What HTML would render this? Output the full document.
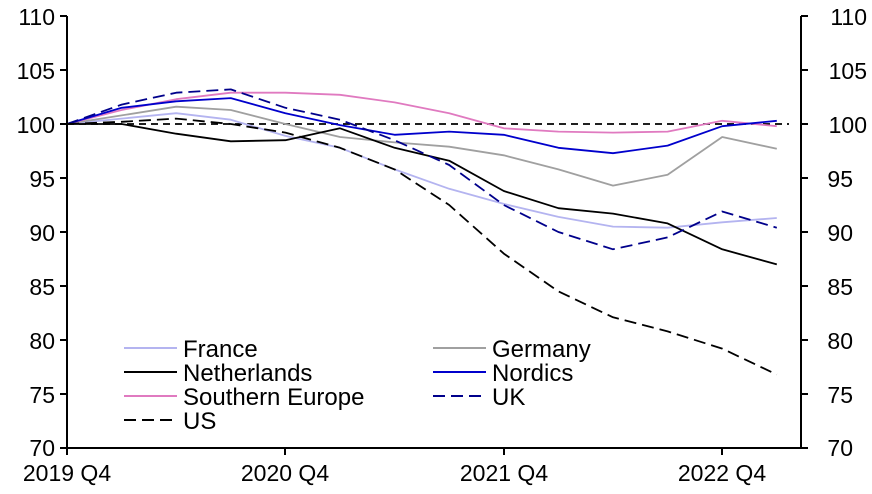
<!DOCTYPE html>
<html><head><meta charset="utf-8"><style>
html,body{margin:0;padding:0;background:#fff;}
svg{display:block;font-family:"Liberation Sans",Arial,sans-serif;}
</style></head><body>
<svg id="c" width="872" height="494" viewBox="0 0 872 494" xmlns="http://www.w3.org/2000/svg">
<g id="series" fill="none" stroke-width="1.8" stroke-linejoin="round"></g>
<g stroke="#000" stroke-width="2" fill="none">
<line x1="67" y1="16" x2="67" y2="448"/>
<line x1="801" y1="16" x2="801" y2="448"/>
<line x1="67" y1="448" x2="801" y2="448"/>
</g>
<g id="ticks" stroke="#000" stroke-width="2"></g>
<g font-size="23" fill="#000">
<text x="55" y="25" text-anchor="end">110</text>
<text x="55" y="79" text-anchor="end">105</text>
<text x="55" y="133" text-anchor="end">100</text>
<text x="55" y="187" text-anchor="end">95</text>
<text x="55" y="241" text-anchor="end">90</text>
<text x="55" y="295" text-anchor="end">85</text>
<text x="55" y="349" text-anchor="end">80</text>
<text x="55" y="403" text-anchor="end">75</text>
<text x="55" y="456" text-anchor="end">70</text>
<text x="867" y="25" text-anchor="end">110</text>
<text x="867" y="79" text-anchor="end">105</text>
<text x="867" y="133" text-anchor="end">100</text>
<text x="853" y="187" text-anchor="end">95</text>
<text x="853" y="241" text-anchor="end">90</text>
<text x="853" y="295" text-anchor="end">85</text>
<text x="853" y="349" text-anchor="end">80</text>
<text x="853" y="403" text-anchor="end">75</text>
<text x="853" y="456" text-anchor="end">70</text>
<text x="67" y="481" text-anchor="middle">2019 Q4</text>
<text x="285" y="481" text-anchor="middle">2020 Q4</text>
<text x="504" y="481" text-anchor="middle">2021 Q4</text>
<text x="722" y="481" text-anchor="middle">2022 Q4</text>
</g>
<g stroke-width="2" fill="none">
<line x1="124" y1="348" x2="177" y2="348" stroke="#b4b4f0"/>
<line x1="124" y1="372" x2="177" y2="372" stroke="#000"/>
<line x1="124" y1="396" x2="177" y2="396" stroke="#e07ac0"/>
<line x1="124" y1="420" x2="177" y2="420" stroke="#000" stroke-dasharray="12,6"/>
<line x1="433" y1="348" x2="486" y2="348" stroke="#a0a0a0"/>
<line x1="433" y1="372" x2="486" y2="372" stroke="#0000cc"/>
<line x1="433" y1="396" x2="486" y2="396" stroke="#00008b" stroke-dasharray="12,6"/>
</g>
<g font-size="24" fill="#000">
<text x="183" y="357">France</text>
<text x="183" y="381">Netherlands</text>
<text x="183" y="405">Southern Europe</text>
<text x="183" y="429">US</text>
<text x="492" y="357">Germany</text>
<text x="492" y="381">Nordics</text>
<text x="492" y="405">UK</text>
</g>
</svg>
<script>
var ns="http://www.w3.org/2000/svg";
function X(i){return 67+54.6*i;}
function Y(v){return 124-(v-100)*10.8;}
var S=[
["#000","7,5",[]],
["#b4b4f0",null,[100,100.5,101,100.4,98.9,97.8,95.8,94,92.6,91.4,90.5,90.4,90.9,91.3]],
["#a0a0a0",null,[100,100.8,101.6,101.3,100,98.8,98.3,97.9,97.1,95.8,94.3,95.3,98.8,97.7]],
["#e07ac0",null,[100,101.3,102.3,102.9,102.9,102.7,102,101,99.6,99.3,99.2,99.3,100.3,99.8]],
["#0000cc",null,[100,101.5,102.1,102.4,101,99.9,99,99.3,99,97.8,97.3,98,99.8,100.3]],
["#000",null,[100,100,99.1,98.4,98.5,99.6,97.8,96.6,93.8,92.2,91.7,90.8,88.4,87]],
["#00008b","12,6",[100,101.8,102.9,103.2,101.5,100.4,98.5,96.2,92.5,90,88.4,89.5,91.9,90.4]],
["#000","12,6",[100,100.2,100.5,100,99.2,97.8,95.8,92.5,88,84.5,82.1,80.8,79.2,76.8]]
];
var g=document.getElementById("series");
S.forEach(function(s,k){
 var p=document.createElementNS(ns,"polyline");
 var pts=[];
 if(k==0){pts=[67+","+Y(100),789+","+Y(100)];}
 else s[2].forEach(function(v,i){pts.push(X(i).toFixed(1)+","+Y(v).toFixed(1));});
 p.setAttribute("points",pts.join(" "));
 p.setAttribute("stroke",s[0]);
 if(s[1])p.setAttribute("stroke-dasharray",s[1]);
 g.appendChild(p);
});
var t=document.getElementById("ticks");
function ln(a,b,c,d){var l=document.createElementNS(ns,"line");l.setAttribute("x1",a);l.setAttribute("y1",b);l.setAttribute("x2",c);l.setAttribute("y2",d);t.appendChild(l);}
for(var v=70;v<=110;v+=5){var y=Y(v);ln(60,y,67,y);ln(801,y,808,y);}
[67,285,504,722].forEach(function(x){ln(x,448,x,455);});
</script>
</body></html>
